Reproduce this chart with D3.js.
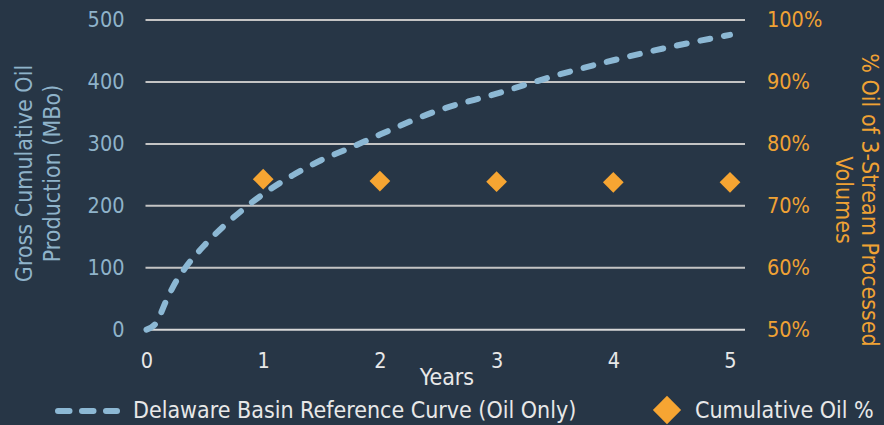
<!DOCTYPE html>
<html>
<head>
<meta charset="utf-8">
<script src="https://cdn.jsdelivr.net/npm/d3@7"></script>
<style>
  html, body { margin: 0; padding: 0; background: #273646; }
  svg { display: block; }
  text { font-family: "DejaVu Sans Condensed", "DejaVu Sans", sans-serif; font-stretch: condensed; }
</style>
</head>
<body>
<svg id="chart" width="884" height="425"></svg>
<script>
// Delaware Basin reference type curve: gross cumulative oil (MBo) by year
const curveYears = [0, 0.083, 0.167, 0.25, 0.333, 0.5, 0.667, 0.833, 1, 1.25, 1.5, 1.75, 2, 2.5, 3, 3.5, 4, 4.5, 5];
const curveOil   = [0, 11, 46, 77, 100, 137, 168, 195, 219, 249, 274, 294, 315, 354, 381, 410, 435, 457, 476];

// Cumulative oil share of 3-stream processed volumes
const pctYears = [1, 2, 3, 4, 5];
const pctOil   = [0.743, 0.740, 0.739, 0.738, 0.738];

const xTicks = [0, 1, 2, 3, 4, 5];
const leftTicks = [0, 100, 200, 300, 400, 500];
const rightTicks = [0.5, 0.6, 0.7, 0.8, 0.9, 1.0];

const seriesNames = ["Delaware Basin Reference Curve (Oil Only)", "Cumulative Oil %"];

const C = {
  bg: "#273646",
  grid: "#c4c4c4",
  curve: "#8cb8d4",
  orange: "#f6a532",
  leftText: "#8fb3ca",
  rightText: "#f0a234",
  xText: "#e8e8e8"
};

const plot = { left: 146.5, right: 730, gridRight: 745, top: 20, bottom: 329.7 };
const tickFont = "21.5px";
const labelFont = "23px";

const svg = d3.select("#chart");
svg.append("rect").attr("width", 884).attr("height", 425).attr("fill", C.bg);

const x = d3.scaleLinear().domain([0, 5]).range([plot.left, plot.right]);
const yL = d3.scaleLinear().domain([0, 500]).range([plot.bottom, plot.top]);
const yR = d3.scaleLinear().domain([0.5, 1]).range([plot.bottom, plot.top]);

// horizontal gridlines
svg.append("g")
  .selectAll("line")
  .data(leftTicks)
  .join("line")
  .attr("x1", plot.left - 1)
  .attr("x2", plot.gridRight)
  .attr("y1", d => yL(d))
  .attr("y2", d => yL(d))
  .attr("stroke", d => d === 0 ? "#d8d8d8" : C.grid)
  .attr("stroke-width", 2);

// left axis
const gL = svg.append("g")
  .attr("transform", `translate(${plot.left},0)`)
  .call(d3.axisLeft(yL).tickValues(leftTicks).tickSize(0).tickPadding(22));
gL.select(".domain").remove();
gL.selectAll("text").attr("fill", C.leftText).style("font-size", tickFont);

// right axis
const gR = svg.append("g")
  .attr("transform", `translate(${plot.gridRight},0)`)
  .call(d3.axisRight(yR).tickValues(rightTicks).tickSize(0).tickPadding(22)
    .tickFormat(d3.format(".0%")));
gR.select(".domain").remove();
gR.selectAll("text").attr("fill", C.rightText).style("font-size", tickFont);

// bottom axis
const gB = svg.append("g")
  .attr("transform", `translate(0,${plot.bottom})`)
  .call(d3.axisBottom(x).tickValues(xTicks).tickSize(0).tickPadding(23).tickFormat(d3.format("d")));
gB.select(".domain").remove();
gB.selectAll("text").attr("fill", C.xText).style("font-size", tickFont);

// axis titles
svg.append("text")
  .attr("x", 447).attr("y", 377).attr("dy", "0.35em")
  .attr("text-anchor", "middle")
  .attr("fill", C.xText)
  .style("font-size", labelFont)
  .text("Years");

const leftTitle = svg.append("text")
  .attr("transform", "translate(24,173.5) rotate(-90)")
  .attr("text-anchor", "middle")
  .attr("fill", C.leftText)
  .style("font-size", labelFont);
leftTitle.append("tspan").attr("x", 0).attr("y", 0).attr("dy", "0.35em").text("Gross Cumulative Oil");
leftTitle.append("tspan").attr("x", 0).attr("y", 28).attr("dy", "0.35em").text("Production (MBo)");

const rightTitle = svg.append("text")
  .attr("transform", "translate(870,200) rotate(90)")
  .attr("text-anchor", "middle")
  .attr("fill", C.rightText)
  .style("font-size", labelFont);
rightTitle.append("tspan").attr("x", 0).attr("y", 0).attr("dy", "0.35em").text("% Oil of 3-Stream Processed");
rightTitle.append("tspan").attr("x", 0).attr("y", 26).attr("dy", "0.35em").text("Volumes");

// reference curve
const curveData = curveYears.map((t, i) => ({ t, v: curveOil[i] }));
const line = d3.line()
  .x(d => x(d.t))
  .y(d => yL(d.v))
  .curve(d3.curveMonotoneX);

svg.append("path")
  .datum(curveData)
  .attr("d", line)
  .attr("fill", "none")
  .attr("stroke", C.curve)
  .attr("stroke-width", 6)
  .attr("stroke-linecap", "round")
  .attr("stroke-dasharray", "10,14");

// oil share diamonds
const diamond = d3.symbol().type(d3.symbolSquare).size(215);
svg.append("g")
  .selectAll("path")
  .data(pctYears.map((t, i) => ({ t, p: pctOil[i] })))
  .join("path")
  .attr("d", diamond)
  .attr("transform", d => `translate(${x(d.t)},${yR(d.p)}) rotate(45)`)
  .attr("fill", C.orange);

// legend
const leg = svg.append("g");
leg.append("line")
  .attr("x1", 58).attr("x2", 117).attr("y1", 411).attr("y2", 411)
  .attr("stroke", C.curve).attr("stroke-width", 6)
  .attr("stroke-linecap", "round").attr("stroke-dasharray", "11.5,12.5");
leg.append("text")
  .attr("x", 133).attr("y", 410).attr("dy", "0.35em")
  .attr("fill", C.xText).style("font-size", labelFont)
  .text(seriesNames[0]);
leg.append("path")
  .attr("d", d3.symbol().type(d3.symbolSquare).size(400)())
  .attr("transform", "translate(667,410) rotate(45)")
  .attr("fill", C.orange);
leg.append("text")
  .attr("x", 695).attr("y", 410).attr("dy", "0.35em")
  .attr("fill", C.xText).style("font-size", labelFont)
  .text(seriesNames[1]);
</script>
</body>
</html>
